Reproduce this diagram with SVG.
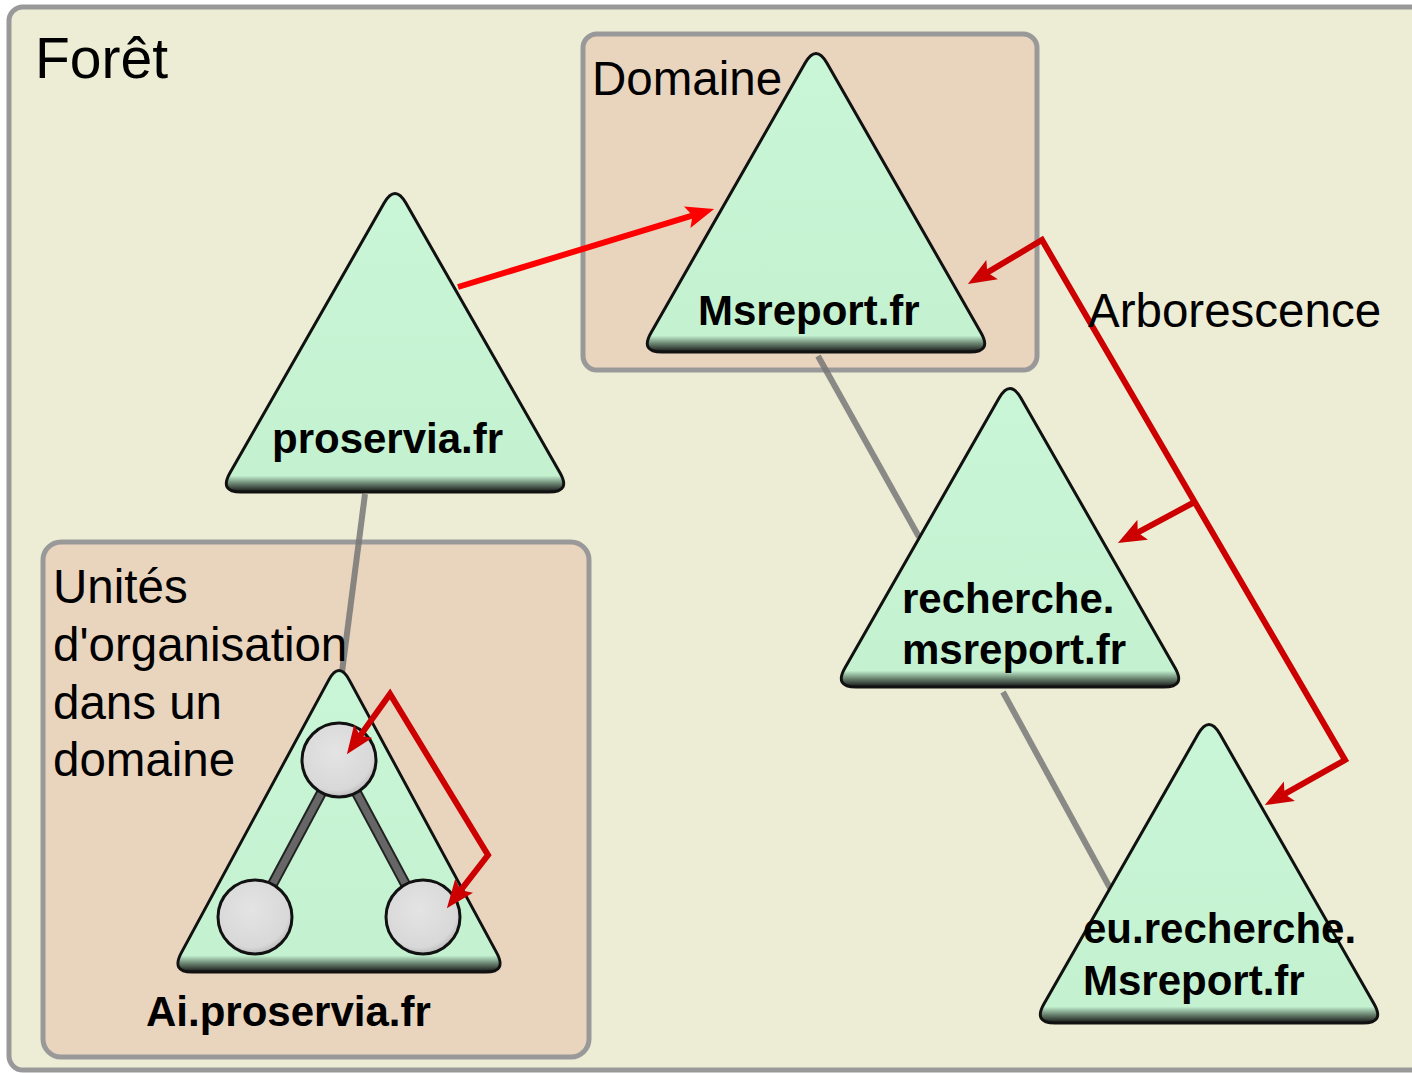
<svg xmlns="http://www.w3.org/2000/svg" width="1412" height="1073" viewBox="0 0 1412 1073">
<style>
.box{stroke:#999999;stroke-width:5}
.tri{fill:url(#triGrad);stroke:#111111;stroke-width:3;stroke-linejoin:round}
.lbl{font-family:"Liberation Sans",Arial,sans-serif;font-size:47.5px;fill:#000}
.big{font-size:57px}
.blbl{font-family:"Liberation Sans",Arial,sans-serif;font-size:42px;font-weight:bold;fill:#000}
.link{stroke:#777777;stroke-opacity:0.85;stroke-width:6;fill:none}
.red{stroke:#ff0000;stroke-width:6;fill:none}
.dred{stroke:#cc0000;stroke-width:6;fill:none;stroke-linejoin:miter}
.circ{fill:url(#circGrad);stroke:#111111;stroke-width:3}
</style>
<defs>
<linearGradient id="triGrad" x1="0" y1="0" x2="0" y2="1">
<stop offset="0" stop-color="#c9f6d6"/>
<stop offset="0.945" stop-color="#c4f2d1"/>
<stop offset="0.97" stop-color="#6f8a76"/>
<stop offset="1" stop-color="#151515"/>
</linearGradient>
<radialGradient id="circGrad" cx="0.45" cy="0.4" r="0.6">
<stop offset="0" stop-color="#e4e4e4"/>
<stop offset="0.85" stop-color="#d8d8d8"/>
<stop offset="1" stop-color="#bdbdbd"/>
</radialGradient>
<path id="triShape" d="M-10.9,10.1 Q0,-9 10.9,10.1 L165.1,279.9 Q176,299 154,299 L-154,299 Q-176,299 -165.1,279.9 Z"/>
<marker id="arrRed" viewBox="0 0 10 8" refX="6.4" refY="4" markerWidth="4.7" markerHeight="3.8" orient="auto-start-reverse" markerUnits="strokeWidth">
<path d="M0,0 L10,4 L0,8 L2,4 Z" fill="#ff0000"/>
</marker>
<marker id="arrDred" viewBox="0 0 10 8" refX="6.4" refY="4" markerWidth="4.7" markerHeight="3.8" orient="auto-start-reverse" markerUnits="strokeWidth">
<path d="M0,0 L10,4 L0,8 L2,4 Z" fill="#cc0000"/>
</marker>
</defs>

<g id="foret">
<rect class="box" x="9" y="7" width="1430" height="1063" rx="14" fill="#ededd6"/>
<text class="lbl big" x="35" y="78">Forêt</text>
</g>

<g id="domaine">
<rect class="box" x="583" y="34" width="454" height="336" rx="14" fill="#e9d4be"/>
<text class="lbl" x="592" y="95">Domaine</text>
</g>

<g id="unites">
<rect class="box" x="43" y="542" width="546" height="515" rx="18" fill="#e9d4be"/>
</g>

<g id="connectors-gray">
<line class="link" x1="365" y1="494" x2="342" y2="672"/>
<line class="link" x1="818" y1="356" x2="919" y2="537"/>
<line class="link" x1="1003" y1="692" x2="1110" y2="888"/>
</g>

<g id="node-proservia">
<use href="#triShape" class="tri" transform="translate(395,193)"/>
<text class="blbl" x="272" y="453">proservia.fr</text>
</g>

<g id="node-msreport">
<use href="#triShape" class="tri" transform="translate(816,53)"/>
<text class="blbl" x="698" y="325">Msreport.fr</text>
</g>

<g id="node-recherche">
<use href="#triShape" class="tri" transform="translate(1010,388)"/>
<text class="blbl" x="902" y="613">recherche.</text>
<text class="blbl" x="902" y="664">msreport.fr</text>
</g>

<g id="node-eu">
<use href="#triShape" class="tri" transform="translate(1209,724)"/>
<text class="blbl" x="1083" y="943">eu.recherche.</text>
<text class="blbl" x="1083" y="995">Msreport.fr</text>
</g>

<g id="node-ai">
<use href="#triShape" class="tri" transform="translate(339,670) scale(0.955,1.01)"/>
<line x1="339" y1="760" x2="255" y2="917" stroke="#222" stroke-width="11"/>
<line x1="339" y1="760" x2="423" y2="917" stroke="#222" stroke-width="11"/>
<line x1="339" y1="760" x2="255" y2="917" stroke="#666" stroke-width="7"/>
<line x1="339" y1="760" x2="423" y2="917" stroke="#666" stroke-width="7"/>
<circle class="circ" cx="339" cy="760" r="37"/>
<circle class="circ" cx="255" cy="917" r="37"/>
<circle class="circ" cx="423" cy="917" r="37"/>
<text class="blbl" x="146" y="1026">Ai.proservia.fr</text>
</g>

<g id="connectors-red">
<line class="red" x1="458" y1="287" x2="704.4" y2="211.9" marker-end="url(#arrRed)"/>
<path class="dred" d="M976.6,278.9 L1042,240 L1345,760 L1273.7,800.1" marker-start="url(#arrDred)" marker-end="url(#arrDred)"/>
<line class="dred" x1="1194.7" y1="502" x2="1126.8" y2="538.3" marker-end="url(#arrDred)"/>
<path class="dred" d="M352.8,745.9 L390,694 L488,855 L453.1,900.1" marker-start="url(#arrDred)" marker-end="url(#arrDred)"/>
</g>

<g id="labels">
<text class="lbl" x="1088" y="327">Arborescence</text>
<text class="lbl" x="53" y="603">Unités</text>
<text class="lbl" x="53" y="661">d'organisation</text>
<text class="lbl" x="53" y="719">dans un</text>
<text class="lbl" x="53" y="776">domaine</text>
</g>
</svg>
